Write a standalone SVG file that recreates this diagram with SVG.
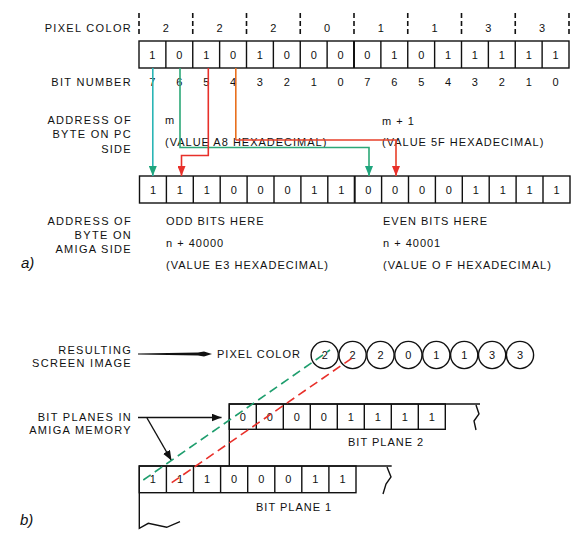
<svg xmlns="http://www.w3.org/2000/svg" width="587" height="544" viewBox="0 0 587 544">
<style>
text{font-family:"Liberation Sans",Arial,sans-serif;font-size:11px;fill:#111;}
.lbl{letter-spacing:1.3px;text-anchor:end;}
.txt{letter-spacing:1px;}
.d{text-anchor:middle;}
.cell{fill:#fff;stroke:#111;stroke-width:1.4;}
.ln{fill:none;stroke:#111;stroke-width:1.4;}
.sep{stroke:#111;stroke-width:1.6;stroke-dasharray:5 3;}
.it{font-size:15px;font-style:italic;}
</style>
<defs>
<marker id="ag" viewBox="0 0 10 8" refX="10" refY="4" markerWidth="10" markerHeight="8" markerUnits="userSpaceOnUse" orient="auto"><path d="M0,0 L10,4 L0,8 Z" fill="#1fa57d"/></marker>
<marker id="ar" viewBox="0 0 10 8" refX="10" refY="4" markerWidth="10" markerHeight="8" markerUnits="userSpaceOnUse" orient="auto"><path d="M0,0 L10,4 L0,8 Z" fill="#e8302a"/></marker>
<marker id="ak" viewBox="0 0 10 8" refX="10" refY="4" markerWidth="10" markerHeight="8" markerUnits="userSpaceOnUse" orient="auto"><path d="M0,0 L10,4 L0,8 Z" fill="#111"/></marker>
</defs>
<rect width="587" height="544" fill="#fff"/>

<g id="pixel-color-row">
<text class="lbl" x="132" y="31.5">PIXEL COLOR</text>
<g>
<line class="sep" x1="139" y1="13" x2="139" y2="37"/>
<line class="sep" x1="192.75" y1="13" x2="192.75" y2="37"/>
<line class="sep" x1="246.5" y1="13" x2="246.5" y2="37"/>
<line class="sep" x1="300.25" y1="13" x2="300.25" y2="37"/>
<line class="sep" x1="354" y1="13" x2="354" y2="37"/>
<line class="sep" x1="407.75" y1="13" x2="407.75" y2="37"/>
<line class="sep" x1="461.5" y1="13" x2="461.5" y2="37"/>
<line class="sep" x1="515.25" y1="13" x2="515.25" y2="37"/>
<line class="sep" x1="569" y1="13" x2="569" y2="37"/>
</g>
<text class="d" x="165.9" y="31.5">2</text>
<text class="d" x="219.6" y="31.5">2</text>
<text class="d" x="273.4" y="31.5">2</text>
<text class="d" x="327.1" y="31.5">0</text>
<text class="d" x="380.9" y="31.5">1</text>
<text class="d" x="434.6" y="31.5">1</text>
<text class="d" x="488.4" y="31.5">3</text>
<text class="d" x="542.1" y="31.5">3</text>
</g>

<g id="pc-bytes">
<rect class="cell" x="139" y="41" width="430" height="27" stroke-width="1.8"/>
<g class="ln">
<path d="M165.875,41V68M192.75,41V68M219.625,41V68M246.5,41V68M273.375,41V68M300.25,41V68M327.125,41V68M380.875,41V68M407.75,41V68M434.625,41V68M461.5,41V68M488.375,41V68M515.25,41V68M542.125,41V68"/>
<path d="M354,41V68" stroke-width="2"/>
</g>
<text class="d" x="152.4" y="58.5">1</text>
<text class="d" x="179.3" y="58.5">0</text>
<text class="d" x="206.2" y="58.5">1</text>
<text class="d" x="233.1" y="58.5">0</text>
<text class="d" x="259.9" y="58.5">1</text>
<text class="d" x="286.8" y="58.5">0</text>
<text class="d" x="313.7" y="58.5">0</text>
<text class="d" x="340.6" y="58.5">0</text>
<text class="d" x="367.4" y="58.5">0</text>
<text class="d" x="394.3" y="58.5">1</text>
<text class="d" x="421.2" y="58.5">0</text>
<text class="d" x="448.1" y="58.5">1</text>
<text class="d" x="474.9" y="58.5">1</text>
<text class="d" x="501.8" y="58.5">1</text>
<text class="d" x="528.7" y="58.5">1</text>
<text class="d" x="555.6" y="58.5">1</text>
</g>

<g id="bit-numbers">
<text class="lbl" x="132" y="85.7">BIT NUMBER</text>
<text class="d" x="152.4" y="85.7">7</text>
<text class="d" x="179.3" y="85.7">6</text>
<text class="d" x="206.2" y="85.7">5</text>
<text class="d" x="233.1" y="85.7">4</text>
<text class="d" x="259.9" y="85.7">3</text>
<text class="d" x="286.8" y="85.7">2</text>
<text class="d" x="313.7" y="85.7">1</text>
<text class="d" x="340.6" y="85.7">0</text>
<text class="d" x="367.4" y="85.7">7</text>
<text class="d" x="394.3" y="85.7">6</text>
<text class="d" x="421.2" y="85.7">5</text>
<text class="d" x="448.1" y="85.7">4</text>
<text class="d" x="474.9" y="85.7">3</text>
<text class="d" x="501.8" y="85.7">2</text>
<text class="d" x="528.7" y="85.7">1</text>
<text class="d" x="555.6" y="85.7">0</text>
</g>

<g id="pc-address">
<text class="lbl" x="132" y="124">ADDRESS OF</text>
<text class="lbl" x="132" y="138">BYTE ON PC</text>
<text class="lbl" x="132" y="153">SIDE</text>
<text class="txt" x="165" y="124">m</text>
<text class="txt" x="165" y="145.7">(VALUE A8 HEXADECIMAL)</text>
<text class="txt" x="382" y="124.5">m + 1</text>
<text class="txt" x="382" y="146">(VALUE 5F HEXADECIMAL)</text>
</g>

<g id="amiga-bytes">
<rect class="cell" x="139.5" y="176" width="430.5" height="27" stroke-width="1.8"/>
<g class="ln">
<path d="M166.4,176V203M193.3,176V203M220.2,176V203M247.1,176V203M274,176V203M300.9,176V203M327.8,176V203M381.6,176V203M408.5,176V203M435.4,176V203M462.3,176V203M489.2,176V203M516.1,176V203M543,176V203"/>
<path d="M354.7,176V203" stroke-width="2"/>
</g>
<text class="d" x="153" y="193.5">1</text>
<text class="d" x="179.9" y="193.5">1</text>
<text class="d" x="206.8" y="193.5">1</text>
<text class="d" x="233.7" y="193.5">0</text>
<text class="d" x="260.6" y="193.5">0</text>
<text class="d" x="287.5" y="193.5">0</text>
<text class="d" x="314.4" y="193.5">1</text>
<text class="d" x="341.3" y="193.5">1</text>
<text class="d" x="368.2" y="193.5">0</text>
<text class="d" x="395.1" y="193.5">0</text>
<text class="d" x="422" y="193.5">0</text>
<text class="d" x="448.9" y="193.5">0</text>
<text class="d" x="475.8" y="193.5">1</text>
<text class="d" x="502.7" y="193.5">1</text>
<text class="d" x="529.6" y="193.5">1</text>
<text class="d" x="556.5" y="193.5">1</text>
</g>

<g id="amiga-address">
<text class="lbl" x="132" y="225">ADDRESS OF</text>
<text class="lbl" x="132" y="239">BYTE ON</text>
<text class="lbl" x="132" y="253">AMIGA SIDE</text>
<text class="txt" x="166" y="225">ODD BITS HERE</text>
<text class="txt" x="166" y="247">n + 40000</text>
<text class="txt" x="166" y="269">(VALUE E3 HEXADECIMAL)</text>
<text class="txt" x="383" y="225">EVEN BITS HERE</text>
<text class="txt" x="383" y="247">n + 40001</text>
<text class="txt" x="383" y="269">(VALUE  O F HEXADECIMAL)</text>
<text class="it" x="21" y="268">a)</text>
</g>

<g id="screen-image">
<text class="lbl" x="132" y="354">RESULTING</text>
<text class="lbl" x="132" y="367">SCREEN IMAGE</text>
<text class="txt" x="217" y="358">PIXEL COLOR</text>
<g class="ln">
<circle cx="324.7" cy="355" r="13.6"/>
<circle cx="352.6" cy="355" r="13.6"/>
<circle cx="380.5" cy="355" r="13.6"/>
<circle cx="408.4" cy="355" r="13.6"/>
<circle cx="436.3" cy="355" r="13.6"/>
<circle cx="464.2" cy="355" r="13.6"/>
<circle cx="492.1" cy="355" r="13.6"/>
<circle cx="520" cy="355" r="13.6"/>
</g>
<text class="d" x="324.7" y="359">2</text>
<text class="d" x="352.6" y="359">2</text>
<text class="d" x="380.5" y="359">2</text>
<text class="d" x="408.4" y="359">0</text>
<text class="d" x="436.3" y="359">1</text>
<text class="d" x="464.2" y="359">1</text>
<text class="d" x="492.1" y="359">3</text>
<text class="d" x="520" y="359">3</text>
</g>

<g id="bit-plane-2">
<path class="ln" d="M229.3,466V404H480"/>
<path class="ln" d="M476,405 L479,414 L474,421 L476,430"/>
<g class="ln">
<rect x="229.3" y="404" width="216" height="25.3"/>
<path d="M256.3,404V429.3M283.3,404V429.3M310.3,404V429.3M337.3,404V429.3M364.3,404V429.3M391.3,404V429.3M418.3,404V429.3"/>
</g>
<text class="d" x="242.8" y="420.7">0</text>
<text class="d" x="269.8" y="420.7">0</text>
<text class="d" x="296.8" y="420.7">0</text>
<text class="d" x="323.8" y="420.7">0</text>
<text class="d" x="350.8" y="420.7">1</text>
<text class="d" x="377.8" y="420.7">1</text>
<text class="d" x="404.8" y="420.7">1</text>
<text class="d" x="431.8" y="420.7">1</text>
<text class="txt" x="348" y="445.7">BIT PLANE 2</text>
</g>

<g id="bit-plane-1">
<path class="ln" d="M391.7,466H139.3V528.3L148.3,523.3L166.7,527.3L180,521.7"/>
<path class="ln" d="M387,467 L391,477 L386,484 L383,494"/>
<g class="ln">
<rect x="139.3" y="466" width="216.7" height="26.7"/>
<path d="M166.4,466V492.7M193.5,466V492.7M220.6,466V492.7M247.7,466V492.7M274.8,466V492.7M301.8,466V492.7M328.9,466V492.7"/>
</g>
<text class="d" x="152.9" y="483.3">1</text>
<text class="d" x="180" y="483.3">1</text>
<text class="d" x="207" y="483.3">1</text>
<text class="d" x="234.1" y="483.3">0</text>
<text class="d" x="261.2" y="483.3">0</text>
<text class="d" x="288.3" y="483.3">0</text>
<text class="d" x="315.4" y="483.3">1</text>
<text class="d" x="342.5" y="483.3">1</text>
<text class="txt" x="256" y="510.7">BIT PLANE 1</text>
<text class="lbl" x="132" y="421">BIT PLANES IN</text>
<text class="lbl" x="132" y="434">AMIGA MEMORY</text>
<text class="it" x="20" y="525">b)</text>
</g>

<g id="connectors">
<path d="M152.8,68V176" fill="none" stroke="#2ab5b5" stroke-width="1.6" marker-end="url(#ag)"/>
<path d="M180,68V147.5H369V176" fill="none" stroke="#2ca877" stroke-width="1.6" marker-end="url(#ag)"/>
<path d="M208.3,68V155.5H181.5V176" fill="none" stroke="#e8302a" stroke-width="1.6" marker-end="url(#ar)"/>
<path d="M235.8,68V140" fill="none" stroke="#e8701e" stroke-width="1.6"/>
<path d="M235.8,140H396V176" fill="none" stroke="#e8402a" stroke-width="1.6" marker-end="url(#ar)"/>
<path d="M138,353.4 L198,352.4 L204,351.6 L212,354 L204,356.4 L198,355.6 L138,354.6 Z" fill="#111"/>
<path d="M138,417.5H221.5" class="ln" stroke-width="1.2" marker-end="url(#ak)"/>
<path d="M147,418L171.5,460.5" class="ln" stroke-width="1.2" marker-end="url(#ak)"/>
<path d="M143.3,480L330,350" fill="none" stroke="#1f9e6e" stroke-width="1.6" stroke-dasharray="9 5"/>
<path d="M171.7,482.7L351.7,358.3" fill="none" stroke="#e8302a" stroke-width="1.6" stroke-dasharray="9 5"/>
</g>
</svg>
